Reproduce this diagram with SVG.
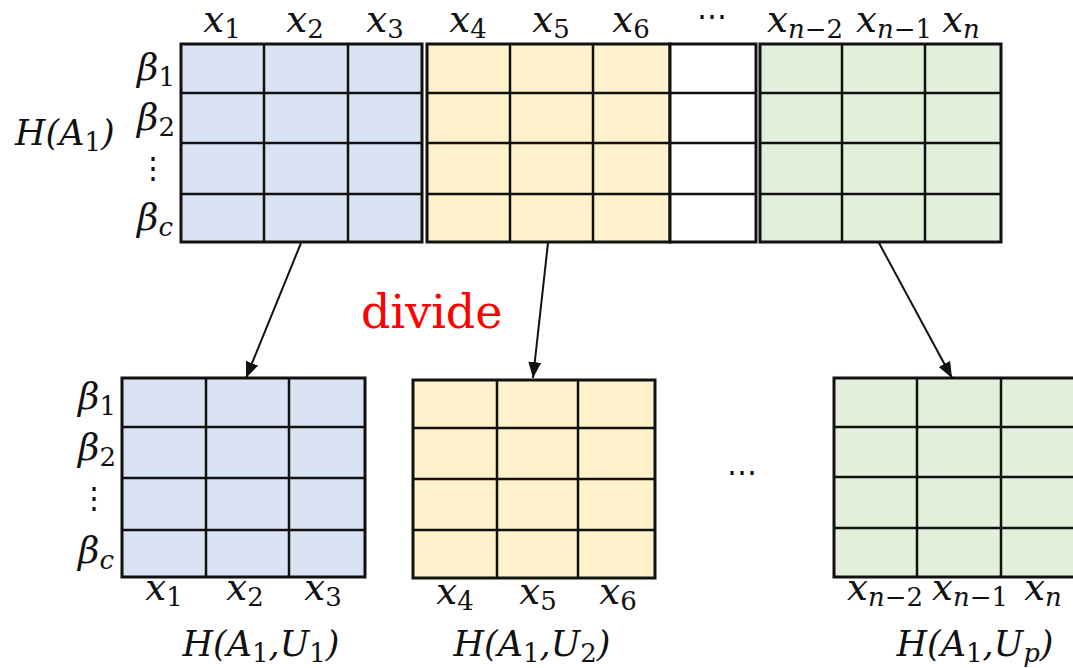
<svg xmlns="http://www.w3.org/2000/svg" width="1073" height="668" viewBox="0 0 1073 668">
<defs>
<style>
text{font-family:'DejaVu Serif','Liberation Serif',serif}
.m{font-style:italic;font-size:37px;fill:#111}
.h{font-size:35px}
.s{font-size:26px;font-style:normal}
.si{font-size:26px}
.g{stroke:#111;stroke-width:2.5;fill:none}
.b{stroke:#111;stroke-width:3}
.blue{fill:#dae3f3}
.yel{fill:#fff2cc}
.grn{fill:#e2efda}
.wht{fill:#fff}
.arr{stroke:#111;stroke-width:2;fill:none;marker-end:url(#ah)}
.dv{font-size:46px;fill:#ff0000}
.dots{font-size:30px;fill:#111}
</style>
<marker id="ah" viewBox="0 0 10 10" refX="10" refY="5" markerWidth="16" markerHeight="13" markerUnits="userSpaceOnUse" orient="auto" preserveAspectRatio="none">
<path d="M0,0 L10,5 L0,10 z" fill="#111"/>
</marker>
</defs>

<g id="top-blue">
<rect x="181" y="44" width="241" height="198" class="blue b"/>
<path class="g" d="M264,44V242M348,44V242M181,93H422M181,143H422M181,194H422"/>
</g>
<g id="top-yellow">
<rect x="427" y="44" width="243" height="198" class="yel b"/>
<path class="g" d="M510,44V242M593,44V242M427,93H670M427,143H670M427,194H670"/>
</g>
<g id="top-white">
<rect x="670" y="44" width="86" height="198" class="wht b"/>
<path class="g" d="M670,93H756M670,143H756M670,194H756"/>
</g>
<g id="top-green">
<rect x="760" y="44" width="241" height="198" class="grn b"/>
<path class="g" d="M842,44V242M925,44V242M760,93H1001M760,143H1001M760,194H1001"/>
</g>

<g id="top-labels">
<text class="m" x="222" y="32" text-anchor="middle">x<tspan class="s" dy="6">1</tspan></text>
<text class="m" x="305" y="32" text-anchor="middle">x<tspan class="s" dy="6">2</tspan></text>
<text class="m" x="385" y="32" text-anchor="middle">x<tspan class="s" dy="6">3</tspan></text>
<text class="m" x="468" y="32" text-anchor="middle">x<tspan class="s" dy="6">4</tspan></text>
<text class="m" x="551" y="32" text-anchor="middle">x<tspan class="s" dy="6">5</tspan></text>
<text class="m" x="631" y="32" text-anchor="middle">x<tspan class="s" dy="6">6</tspan></text>
<text class="dots" x="712" y="26" text-anchor="middle">⋯</text>
<text class="m" x="805" y="32" text-anchor="middle">x<tspan class="si" dy="6">n</tspan><tspan class="s">−2</tspan></text>
<text class="m" x="894" y="32" text-anchor="middle">x<tspan class="si" dy="6">n</tspan><tspan class="s">−1</tspan></text>
<text class="m" x="961" y="32" text-anchor="middle">x<tspan class="si" dy="6">n</tspan></text>
<text class="m" x="137" y="80">β<tspan class="s" dy="6">1</tspan></text>
<text class="m" x="137" y="130">β<tspan class="s" dy="6">2</tspan></text>
<text class="dots" x="153" y="178" text-anchor="middle">⋮</text>
<text class="m" x="137" y="230">β<tspan class="si" dy="6">c</tspan></text>
<text class="m h" x="15" y="145">H(A<tspan class="s" dy="6">1</tspan><tspan dy="-6">)</tspan></text>
</g>

<g id="connectors">
<line class="arr" x1="301" y1="243" x2="246" y2="378"/>
<line class="arr" x1="548" y1="243" x2="533" y2="378"/>
<line class="arr" x1="879" y1="243" x2="952" y2="378"/>
</g>

<text class="dv" x="361" y="328">divide</text>

<g id="bottom-blue">
<rect x="122" y="378" width="243" height="199" class="blue b"/>
<path class="g" d="M206,378V577M289,378V577M122,427H365M122,478H365M122,530H365"/>
<text class="m" x="78" y="409">β<tspan class="s" dy="6">1</tspan></text>
<text class="m" x="78" y="460">β<tspan class="s" dy="6">2</tspan></text>
<text class="dots" x="94" y="508" text-anchor="middle">⋮</text>
<text class="m" x="78" y="563">β<tspan class="si" dy="6">c</tspan></text>
<text class="m" x="164" y="600" text-anchor="middle">x<tspan class="s" dy="6">1</tspan></text>
<text class="m" x="245" y="600" text-anchor="middle">x<tspan class="s" dy="6">2</tspan></text>
<text class="m" x="323" y="600" text-anchor="middle">x<tspan class="s" dy="6">3</tspan></text>
<text class="m h" x="261" y="656" text-anchor="middle">H(A<tspan class="s" dy="6">1</tspan><tspan dy="-6">,U</tspan><tspan class="s" dy="6">1</tspan><tspan dy="-6">)</tspan></text>
</g>

<g id="bottom-yellow">
<rect x="413" y="380" width="242" height="198" class="yel b"/>
<path class="g" d="M497,380V578M578,380V578M413,428H655M413,479H655M413,530H655"/>
<text class="m" x="455" y="604" text-anchor="middle">x<tspan class="s" dy="6">4</tspan></text>
<text class="m" x="538" y="604" text-anchor="middle">x<tspan class="s" dy="6">5</tspan></text>
<text class="m" x="618" y="604" text-anchor="middle">x<tspan class="s" dy="6">6</tspan></text>
<text class="m h" x="532" y="656" text-anchor="middle">H(A<tspan class="s" dy="6">1</tspan><tspan dy="-6">,U</tspan><tspan class="s" dy="6">2</tspan><tspan dy="-6">)</tspan></text>
</g>

<text class="dots" x="742" y="482" text-anchor="middle">⋯</text>

<g id="bottom-green">
<rect x="834" y="378" width="250" height="199" class="grn b"/>
<path class="g" d="M917,378V577M1001,378V577M834,427H1084M834,477H1084M834,528H1084"/>
<text class="m" x="885" y="600" text-anchor="middle">x<tspan class="si" dy="6">n</tspan><tspan class="s">−2</tspan></text>
<text class="m" x="970" y="600" text-anchor="middle">x<tspan class="si" dy="6">n</tspan><tspan class="s">−1</tspan></text>
<text class="m" x="1043" y="600" text-anchor="middle">x<tspan class="si" dy="6">n</tspan></text>
<text class="m h" x="975" y="656" text-anchor="middle">H(A<tspan class="s" dy="6">1</tspan><tspan dy="-6">,U</tspan><tspan class="si" dy="6">p</tspan><tspan dy="-6">)</tspan></text>
</g>
</svg>
